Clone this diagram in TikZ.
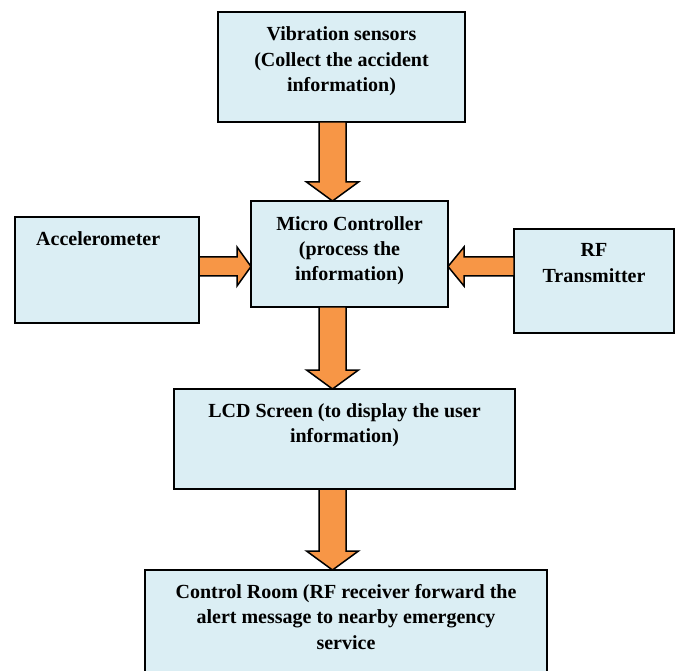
\documentclass[tikz,border=0pt]{standalone}
\usepackage{fontspec}
\setmainfont{Liberation Serif}
\usetikzlibrary{calc}
\definecolor{boxfill}{HTML}{DBEEF4}
\definecolor{arrfill}{HTML}{F79646}
\newcommand\varrowdraw[2]{%
  \draw[barrow] ($(#1)+(-13.5,0)$) -- ($(#2)+(-13.5,-19)$) -- ($(#2)+(-26,-19)$) -- (#2)
    -- ($(#2)+(26,-19)$) -- ($(#2)+(13.5,-19)$) -- ($(#1)+(13.5,0)$) -- cycle;}
\newcommand\harrowdraw[3]{%
  \draw[barrow] ($(#1)+(0,-9.5)$) -- ($(#2)+(#3,-9.5)$) -- ($(#2)+(#3,-19.5)$) -- (#2)
    -- ($(#2)+(#3,19.5)$) -- ($(#2)+(#3,9.5)$) -- ($(#1)+(0,9.5)$) -- cycle;}
\begin{document}
\begin{tikzpicture}[x=1pt,y=-1pt,
  blk/.style={draw=black,line width=1.6pt,fill=boxfill,inner sep=0pt,outer sep=0pt},
  lbl/.style={font=\bfseries\fontsize{20}{25.5}\selectfont,align=center,inner sep=0pt,anchor=base},
  barrow/.style={draw=black,line width=1.5pt,fill=arrfill,line join=miter}]
\clip (0,0) rectangle (678,671);
\fill[white] (0,0) rectangle (678,671);
% boxes
\node[blk,minimum width=247pt,minimum height=110pt] (vib) at (341.5,67) {};
\node[blk,minimum width=197pt,minimum height=106pt] (mc) at (349.5,254) {};
\node[blk,minimum width=184pt,minimum height=106pt] (acc) at (107,270) {};
\node[blk,minimum width=160pt,minimum height=104pt] (rf) at (594,281) {};
\node[blk,minimum width=341pt,minimum height=100pt] (lcd) at (344.5,439) {};
\node[blk,minimum width=402pt,minimum height=140pt] (ctrl) at (346,640) {};
% labels (base anchor = baseline of the last line)
\node[lbl] (tvib) at ($(vib.north)+(0,80)$) {Vibration sensors\\(Collect the accident\\information)};
\node[lbl] (tmc) at ($(mc.north)+(0,80)$) {Micro Controller\\(process the\\information)};
\node[lbl,anchor=base west] (tacc) at ($(acc.north west)+(21,29)$) {Accelerometer};
\node[lbl] (trf) at ($(rf.north)+(0,53.5)$) {RF\\Transmitter};
\node[lbl] (tlcd) at ($(lcd.north)+(0,53.5)$) {LCD Screen (to display the user\\information)};
\node[lbl] (tctrl) at ($(ctrl.north)+(0,79)$) {Control Room (RF receiver forward the\\alert message to nearby emergency\\service};
% arrow axes
\coordinate (ax) at (332.5,0);
\coordinate (ay) at (0,266.5);
\coordinate (s1) at (vib.south -| ax);
\coordinate (t1) at (mc.north -| ax);
\coordinate (s2) at (mc.south -| ax);
\coordinate (t2) at (lcd.north -| ax);
\coordinate (s3) at (lcd.south -| ax);
\coordinate (t3) at (ctrl.north -| ax);
\coordinate (s4) at (acc.east |- ay);
\coordinate (t4) at (mc.west |- ay);
\coordinate (s5) at (rf.west |- ay);
\coordinate (t5) at (mc.east |- ay);
\varrowdraw{s1}{t1}
\varrowdraw{s2}{t2}
\varrowdraw{s3}{t3}
\harrowdraw{s4}{t4}{-14}
\harrowdraw{s5}{t5}{16}
\end{tikzpicture}
\end{document}
